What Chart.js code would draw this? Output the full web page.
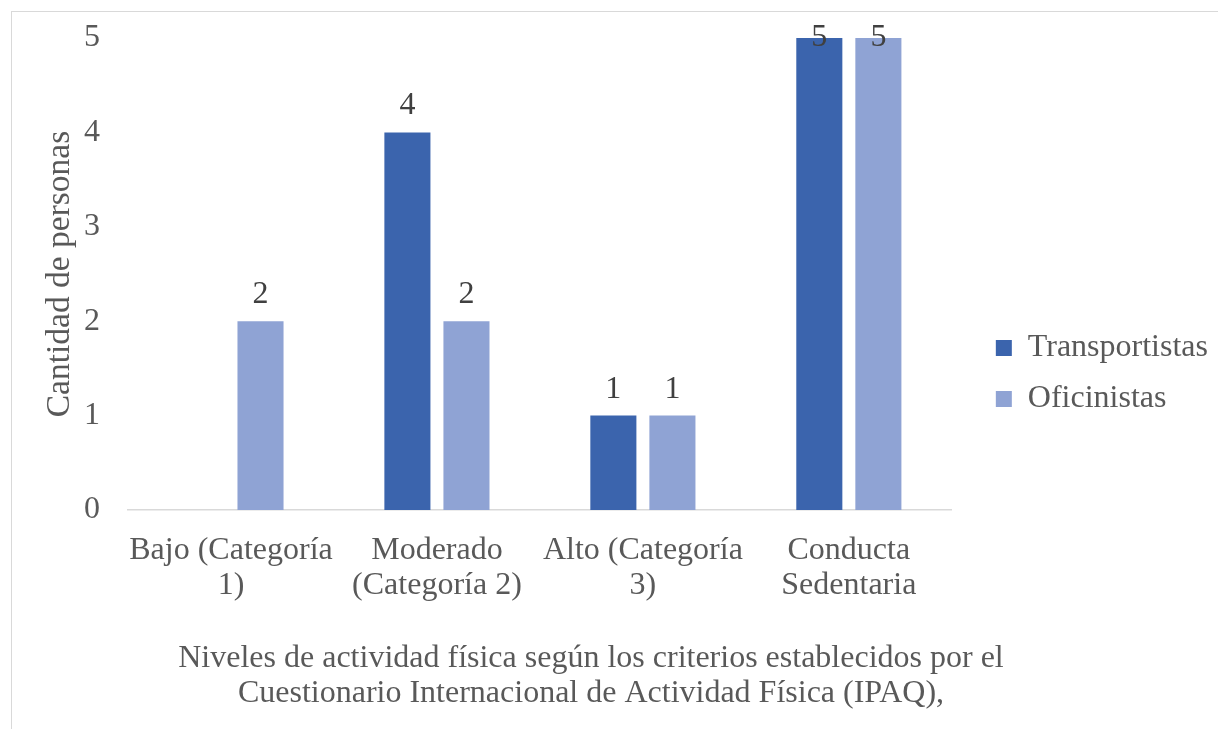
<!DOCTYPE html>
<html>
	<head>
		<meta charset="UTF-8">
		<title>Niveles de actividad física</title>
		<style>
			body{margin:0;overflow:hidden;background:#fff;}
			#marco{position:absolute;left:11px;top:11px;width:2000px;height:2000px;border:1.5px solid #d9d9d9;}
			#caja{position:absolute;left:0;top:0;width:1218px;height:729px;}
		</style>
	</head>
	<body>
		<div id="marco"></div>
		<div id="caja"><canvas id="myChart"></canvas></div>
	</body>
	<script src="https://cdn.jsdelivr.net/npm/chart.js@4/dist/chart.umd.min.js"></script>
	<script>
		var categorias=[["Bajo (Categoría","1)"],["Moderado","(Categoría 2)"],["Alto (Categoría","3)"],["Conducta","Sedentaria"]];
		var transportistas=[0,4,1,5];
		var oficinistas=[2,2,1,5];
		var titulo=["Niveles de actividad física según los criterios establecidos por el","Cuestionario Internacional de Actividad Física (IPAQ),"];
		var tituloY="Cantidad de personas";

		var fuente='"Liberation Serif", "Times New Roman", serif';
		var gris="#595959";

		//etiquetas sobre las barras y texto del eje inferior
		var extras={
			id:"extras",
			afterDatasetsDraw(chart){
				var ctx=chart.ctx;
				ctx.save();
				ctx.font="32px "+fuente;
				ctx.fillStyle="#404040";
				ctx.textAlign="center";
				ctx.textBaseline="alphabetic";
				chart.data.datasets.forEach(function(ds,i){
					chart.getDatasetMeta(i).data.forEach(function(bar,j){
						if(ds.data[j]==0) return;
						var y=Math.max(bar.y-18,chart.chartArea.top+8);
						ctx.fillText(ds.data[j],bar.x,y);
					});
				});
				ctx.fillStyle=gris;
				var base=chart.chartArea.bottom+157;
				for(var k=0;k<titulo.length;k++){
					ctx.fillText(titulo[k],591,base+k*35);
				}
				ctx.restore();
			}
		};

		var ctx=document.getElementById('myChart').getContext('2d');
		var myChart=new Chart(ctx,{
			type:'bar',
			data:{
				labels:categorias,
				datasets:[
					{label:"Transportistas",data:transportistas,backgroundColor:"#3b64ad",borderWidth:0},
					{label:"Oficinistas",data:oficinistas,backgroundColor:"#8fa3d4",borderWidth:0}
				]
			},
			options:{
				responsive:true,
				maintainAspectRatio:false,
				animation:false,
				layout:{padding:{left:40,top:38,right:0,bottom:20}},
				datasets:{bar:{categoryPercentage:0.5735,barPercentage:0.78}},
				plugins:{
					legend:{
						position:'right',
						maxWidth:400,
						labels:{font:{family:fuente,size:32},color:gris,boxWidth:16,boxHeight:16,padding:19}
					},
					tooltip:{enabled:false}
				},
				scales:{
					x:{
						grid:{display:false},
						border:{color:"#d9d9d9",width:1.5},
						ticks:{font:{family:fuente,size:32,lineHeight:1.1},color:gris,padding:15,maxRotation:0,autoSkip:false},
						afterFit:function(s){s.height=199;}
					},
					y:{
						min:0,max:5,
						grid:{display:false},
						border:{display:false},
						ticks:{stepSize:1,font:{family:fuente,size:32,lineHeight:0.6},color:gris,padding:20},
						title:{display:true,text:tituloY,font:{family:fuente,size:33.5},color:gris,padding:0},
						afterFit:function(s){s.width=88;}
					},
					hueco:{
						type:'linear',
						position:'right',
						grid:{display:false},
						border:{display:false},
						ticks:{display:false},
						afterFit:function(s){s.width=25;}
					}
				}
			},
			plugins:[extras]
		});
	</script>
</html>
